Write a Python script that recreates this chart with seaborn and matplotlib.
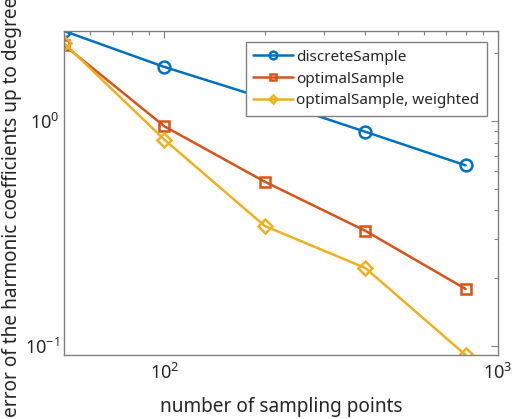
import matplotlib
matplotlib.use("Agg")
import matplotlib.pyplot as plt
import seaborn as sns
import pandas as pd
import numpy as np
from matplotlib.ticker import LogLocator, NullFormatter

n_points = [50, 100, 200, 400, 800]
discrete = [2.515, 1.74, 1.26, 0.896, 0.635]
optimal = [2.18, 0.947, 0.537, 0.325, 0.179]
weighted = [2.22, 0.826, 0.341, 0.222, 0.091]
labels = ["discreteSample", "optimalSample", "optimalSample, weighted"]
colors = ["#0072BD", "#D95319", "#EDB120"]
markers = ["o", "s", "D"]
msizes = [8.5, 6.5, 7.0]

sns.set_theme(style="white")
plt.rcParams['font.family'] = ['Noto Sans', 'DejaVu Sans']
plt.rcParams['mathtext.fontset'] = 'custom'
plt.rcParams['mathtext.rm'] = 'Noto Sans'

df = pd.concat([
    pd.DataFrame({"n": n_points, "err": v, "method": lab})
    for v, lab in zip([discrete, optimal, weighted], labels)
])

fig = plt.figure(figsize=(5.12, 4.19), dpi=100)
ax = fig.add_axes([64/512, 1-355/419, (498-64)/512, (355-31)/419])

for lab, col, mk, ms in zip(labels, colors, markers, msizes):
    sub = df[df["method"] == lab]
    sns.lineplot(data=sub, x="n", y="err", ax=ax, color=col, marker=mk,
                 markersize=ms, markerfacecolor="none",
                 markeredgecolor=col, markeredgewidth=1.8, linewidth=1.8,
                 legend=False)

ax.set_xscale("log")
ax.set_yscale("log")
ax.set_xlim(50, 1000)
ax.set_ylim(0.091, 2.515)

ax.xaxis.set_major_locator(LogLocator(base=10, numticks=10))
ax.yaxis.set_major_locator(LogLocator(base=10, numticks=10))
ax.xaxis.set_minor_locator(LogLocator(base=10, subs=np.arange(2, 10), numticks=20))
ax.yaxis.set_minor_locator(LogLocator(base=10, subs=np.arange(2, 10), numticks=20))
ax.xaxis.set_minor_formatter(NullFormatter())
ax.yaxis.set_minor_formatter(NullFormatter())

ax.tick_params(which="both", direction="in", top=True, right=True,
               color="#808080", labelcolor="#262626", labelsize=13)
ax.tick_params(which="major", length=5, width=0.8)
ax.tick_params(which="minor", length=3, width=0.8)
ax.tick_params(axis="x", which="major", pad=6)
for s in ax.spines.values():
    s.set_color("#808080")
    s.set_linewidth(1.0)

ax.set_xlabel("number of sampling points", fontsize=13.7, color="#262626", labelpad=10)
ax.set_ylabel("error of the harmonic coefficients up to degree 16", fontsize=13.7,
              color="#262626", labelpad=2)

handles = list(ax.lines[:3])
leg = ax.legend(handles=handles, labels=labels, loc="upper right", fontsize=11,
                frameon=True, fancybox=False, framealpha=1.0,
                edgecolor="#808080", borderpad=0.5, labelspacing=0.45,
                handlelength=2.6, handletextpad=0.2, borderaxespad=0.72,
                markerscale=0.65)
leg.get_frame().set_linewidth(1.0)

fig.savefig("out.png", dpi=100)
